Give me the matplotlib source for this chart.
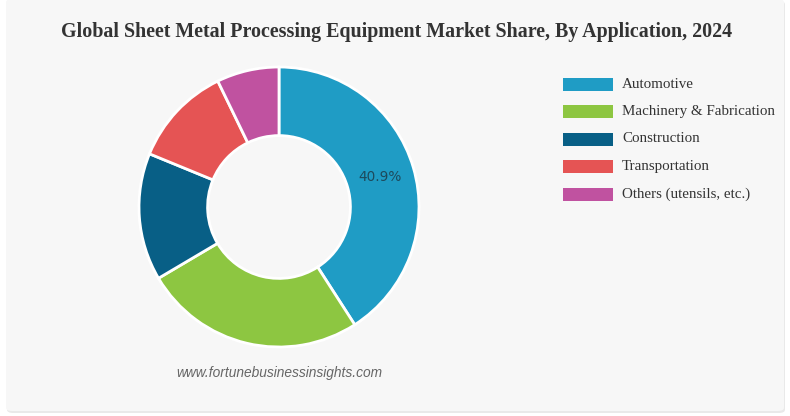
import matplotlib
matplotlib.use("Agg")
import matplotlib.pyplot as plt
from matplotlib.patches import FancyBboxPatch, Rectangle
import math

categories = ["Automotive", "Machinery & Fabrication", "Construction",
              "Transportation", "Others (utensils, etc.)"]
shares = [40.9, 25.6, 14.7, 11.6, 7.2]
colors = ["#1f9cc5", "#8dc641", "#085f86", "#e55454", "#c052a0"]
title = "Global Sheet Metal Processing Equipment Market Share, By Application, 2024"
source = "www.fortunebusinessinsights.com"

W, H = 790, 416
fig = plt.figure(figsize=(W / 100, H / 100), dpi=100)
fig.patch.set_facecolor("white")

# card background
shadow = FancyBboxPatch((7 / W, 3 / H), 778 / W, 412 / H,
                        boxstyle="round,pad=0,rounding_size=0.008",
                        transform=fig.transFigure, facecolor="#e9e9e9",
                        edgecolor="none", zorder=-2)
fig.patches.append(shadow)
card = FancyBboxPatch((6 / W, 5 / H), 778 / W, 412 / H,
                      boxstyle="round,pad=0,rounding_size=0.008",
                      transform=fig.transFigure, facecolor="#f7f7f7",
                      edgecolor="none", zorder=-1)
fig.patches.append(card)

# pie axes
cx, cy, R = 279, 416 - 207, 140
ax = fig.add_axes([(cx - R) / W, (cy - R) / H, 2 * R / W, 2 * R / H])
ax.set_zorder(2)
ax.patch.set_alpha(0)
ax.axis("off")
wedges, _ = ax.pie(shares, colors=colors, startangle=90, counterclock=False,
                   radius=1.0, wedgeprops=dict(width=0.49, edgecolor="white", linewidth=2))
ax.set_xlim(-1, 1)
ax.set_ylim(-1, 1)
ax.set_aspect("equal")

# label for largest slice
tot = sum(shares)
mid = 90 - (shares[0] / 2) / tot * 360
r = 1 - 0.49 / 2
ax.text(r * math.cos(math.radians(mid)), r * math.sin(math.radians(mid)),
        f"{shares[0]}%", ha="center", va="center", fontsize=9.8,
        color="#1d4a5c", family="DejaVu Sans")

fig.text(397 / W, 1 - 32 / H, title, ha="center", va="center",
         fontsize=14.4, fontweight="bold", family="Liberation Serif", color="#333333")

# legend
y0 = 84
for i, (cat, col) in enumerate(zip(categories, colors)):
    y = y0 + i * 27.5
    fig.patches.append(Rectangle((563 / W, 1 - (y + 6.5) / H), 50 / W, 13 / H,
                                 transform=fig.transFigure, facecolor=col,
                                 edgecolor="none", zorder=1))
    fig.text(622 / W, 1 - y / H, cat, ha="left", va="center", fontsize=10.8,
             family="Liberation Serif", color="#333333")

fig.text(279 / W, 1 - 373 / H, source, ha="center", va="center",
         fontsize=9.9, style="italic", family="Liberation Sans", color="#666666")

fig.savefig("out.png", dpi=100, facecolor=fig.get_facecolor())
